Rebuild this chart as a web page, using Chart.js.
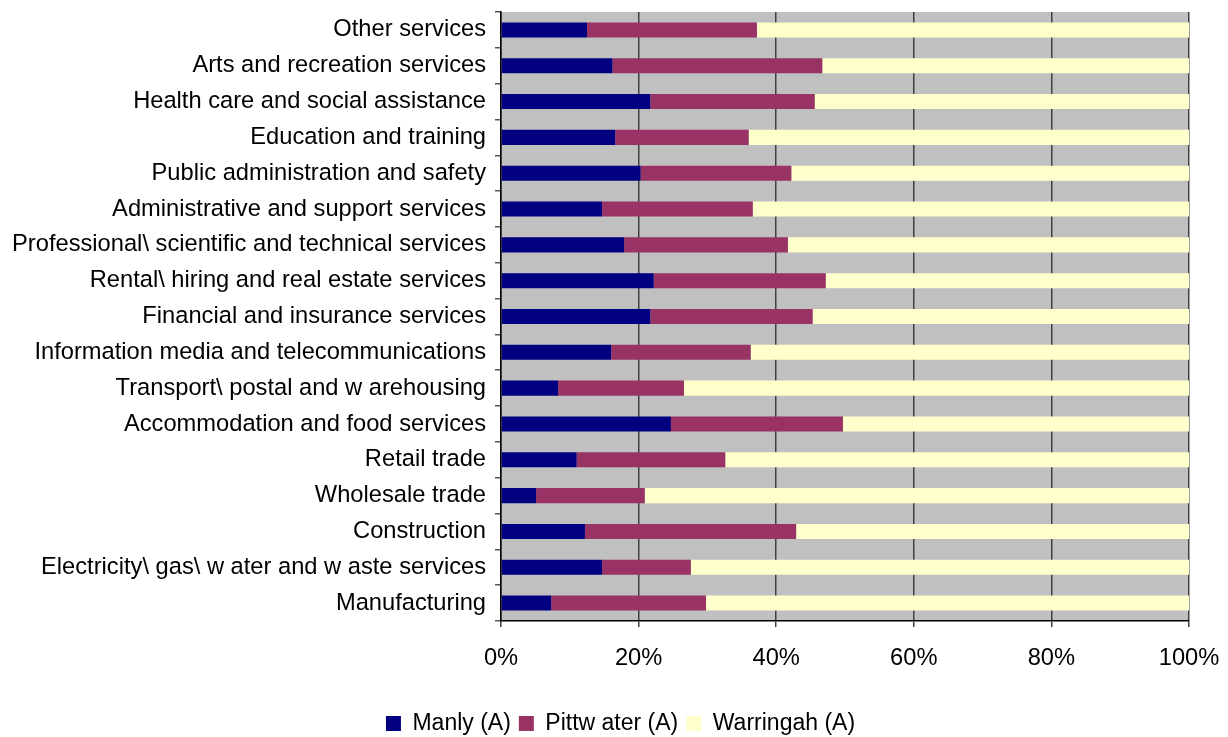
<!DOCTYPE html>
<html>
<head>
<meta charset="utf-8">
<script src="https://cdn.jsdelivr.net/npm/chart.js@4.4.1/dist/chart.umd.min.js"></script>
<style>
  body { margin: 0; background: #fff; }
</style>
</head>
<body>
<canvas id="myChart" width="1228" height="737"></canvas>
<script>
// top to bottom, as shown
const industries = [
  'Other services',
  'Arts and recreation services',
  'Health care and social assistance',
  'Education and training',
  'Public administration and safety',
  'Administrative and support services',
  'Professional\\ scientific and technical services',
  'Rental\\ hiring and real estate services',
  'Financial and insurance services',
  'Information media and telecommunications',
  'Transport\\ postal and w arehousing',
  'Accommodation and food services',
  'Retail trade',
  'Wholesale trade',
  'Construction',
  'Electricity\\ gas\\ w ater and w aste services',
  'Manufacturing'
];

// share of employment (%)
const manly     = [12.5, 16.2, 21.7, 16.6, 20.3, 14.7, 17.9, 22.2, 21.7, 16.0, 8.3, 24.7, 11.0, 5.1, 12.2, 14.7, 7.3];
const pittwater = [24.7, 30.5, 23.9, 19.4, 21.9, 21.9, 23.8, 25.0, 23.6, 20.3, 18.3, 25.0, 21.6, 15.8, 30.7, 12.9, 22.5];
const warringah = [62.8, 53.3, 54.4, 64.0, 57.8, 63.4, 58.3, 52.8, 54.7, 63.7, 73.4, 50.3, 67.4, 79.1, 57.1, 72.4, 70.2];

const xTicks = [0, 20, 40, 60, 80, 100];

const font = { family: "'Liberation Sans', Arial, sans-serif", size: 23.7 };
const legendFont = { family: "'Liberation Sans', Arial, sans-serif", size: 23 };

const plotBg = {
  id: 'plotBg',
  beforeDraw(chart) {
    const { ctx, chartArea: a } = chart;
    ctx.save();
    ctx.fillStyle = '#C0C0C0';
    ctx.fillRect(a.left, a.top, a.right - a.left, a.bottom - a.top);
    ctx.restore();
  }
};

// nudge the legend so it sits centred on the page like the original
const legendShift = {
  id: 'legendShift',
  afterLayout(chart) {
    chart.legend.left += 26;
    chart.legend.right += 26;
  }
};

const data = {
  labels: industries,
  datasets: [
    { label: 'Manly (A)', data: manly, backgroundColor: '#000080' },
    { label: 'Pittw ater (A)', data: pittwater, backgroundColor: '#993366' },
    { label: 'Warringah (A)', data: warringah, backgroundColor: '#FFFFCC' }
  ]
};

const config = {
  type: 'bar',
  data: data,
  plugins: [plotBg, legendShift],
  options: {
    indexAxis: 'y',
    responsive: false,
    animation: false,
    barPercentage: 0.42,
    categoryPercentage: 1,
    layout: {
      padding: { top: 12, right: 39, bottom: -8, left: 0 }
    },
    scales: {
      x: {
        stacked: true,
        min: 0,
        max: 100,
        afterBuildTicks(scale) {
          scale.ticks = xTicks.map(v => ({ value: v }));
        },
        afterFit(scale) {
          scale.height = 83;
          scale.paddingLeft = 0;
          scale.paddingRight = 0;
        },
        ticks: {
          color: '#000',
          font: font,
          padding: 17,
          maxRotation: 0,
          callback: v => v + '%'
        },
        grid: { color: '#404040', lineWidth: 1.5, tickLength: 6 },
        border: { color: '#000', width: 1.5 }
      },
      y: {
        stacked: true,
        afterFit(scale) {
          scale.width = 501;
          scale.paddingTop = 0;
          scale.paddingBottom = 0;
        },
        ticks: { color: '#000', font: font, padding: 9, autoSkip: false },
        grid: {
          offset: true,
          drawOnChartArea: false,
          color: '#555',
          lineWidth: 1.5,
          tickLength: 6
        },
        border: { color: '#000', width: 1.5 }
      }
    },
    plugins: {
      legend: {
        display: true,
        position: 'bottom',
        labels: {
          color: '#000',
          font: legendFont,
          boxWidth: 15,
          boxHeight: 15,
          padding: 8
        }
      },
      tooltip: { enabled: false }
    }
  }
};

new Chart(
  document.getElementById('myChart'),
  config
);
</script>
</body>
</html>
